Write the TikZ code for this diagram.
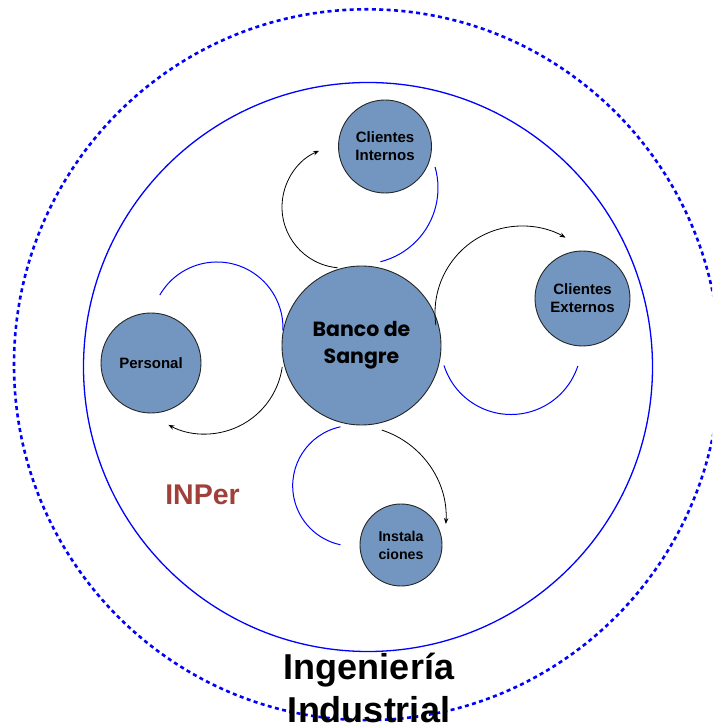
\documentclass[tikz,border=0pt]{standalone}
\usepackage{fontspec}
\setmainfont{Liberation Sans}
\newfontfamily\poppins{Poppins}
\usetikzlibrary{arrows.meta}

\definecolor{bubblefill}{RGB}{115,150,192}
\definecolor{inperred}{RGB}{160,64,58}
\definecolor{ringblue}{RGB}{0,0,255}

\tikzset{
  bubble/.style={circle, draw=black!85, line width=0.9pt, fill=bubblefill,
    inner sep=0pt, align=center, font=\bfseries\fontsize{15}{18}\selectfont},
  flow/.style={draw=black, line width=0.8pt, -{Stealth[length=6pt,width=4.5pt]}},
  loopback/.style={draw=ringblue, line width=1pt},
}

\begin{document}
\begin{tikzpicture}[x=1pt,y=1pt]
  \useasboundingbox (0,0) rectangle (712,725);
  \clip (0,0) rectangle (712,725);

  % outer dotted boundary and inner ring
  \draw[ringblue, line width=2.6pt, dash pattern=on 4pt off 3.4pt]
    (367,360.3) ellipse [x radius=353, y radius=355.4];
  \draw[ringblue, line width=1.3pt] (368,358) circle [radius=284.5];

  % circles
  \node[bubble, minimum size=159pt,
        font=\poppins\bfseries\fontsize{20.5}{27}\selectfont]
        (banco) at (361.5,379.5) {Banco de\\Sangre};
  \node[bubble, minimum size=93pt]  (cint)  at (385,578.5) {Clientes\\Internos};
  \node[bubble, minimum size=95pt]  (cext)  at (582.5,426.5) {Clientes\\Externos};
  \node[bubble, minimum size=100pt] (pers)  at (151,362) {Personal};
  \node[bubble, minimum size=82pt, font=\bfseries\fontsize{14.2}{18}\selectfont]
        (inst)  at (401,180) {Instala\\ciones};

  % centres of the cycle arcs
  \coordinate (cA) at (343,518);
  \coordinate (cB) at (362,537);
  \coordinate (cC) at (522,412);
  \coordinate (cD) at (511,380.8);
  \coordinate (cE) at (217,397);
  \coordinate (cF) at (205,369);
  \coordinate (cG) at (353,239.2);
  \coordinate (cH) at (353,206.5);

  % cycle around Clientes Internos
  \draw[flow] ([shift={(265:61)}]cA) arc[start angle=265, end angle=113, radius=61];
  \draw[loopback] ([shift={(16:76)}]cB) arc[start angle=16, end angle=-76, radius=76];

  % cycle around Clientes Externos
  \draw[flow] ([shift={(188:87)}]cC) arc[start angle=188, end angle=60, radius=87];
  \draw[loopback] ([shift={(197.6:70.3)}]cD) arc[start angle=197.6, end angle=342, radius=70.3];

  % cycle around Personal
  \draw[loopback] ([shift={(150:66)}]cE) arc[start angle=150, end angle=-2, radius=66];
  \draw[flow] ([shift={(-8:78)}]cF) arc[start angle=-8, end angle=-118, radius=78];

  % cycle around Instalaciones
  \draw[loopback] ([shift={(102:60.3)}]cG) arc[start angle=102, end angle=258, radius=60.3];
  \draw[flow] ([shift={(72:93)}]cH) arc[start angle=72, end angle=-3.4, radius=93];

  % labels
  \node[text=inperred, font=\bfseries\fontsize{28.5}{34}\selectfont] (inper) at (202.5,230) {INPer};
  \node[align=center, font=\bfseries\fontsize{36}{43}\selectfont] (ing) at (369,37) {Ingeniería\\Industrial};
\end{tikzpicture}
\end{document}
